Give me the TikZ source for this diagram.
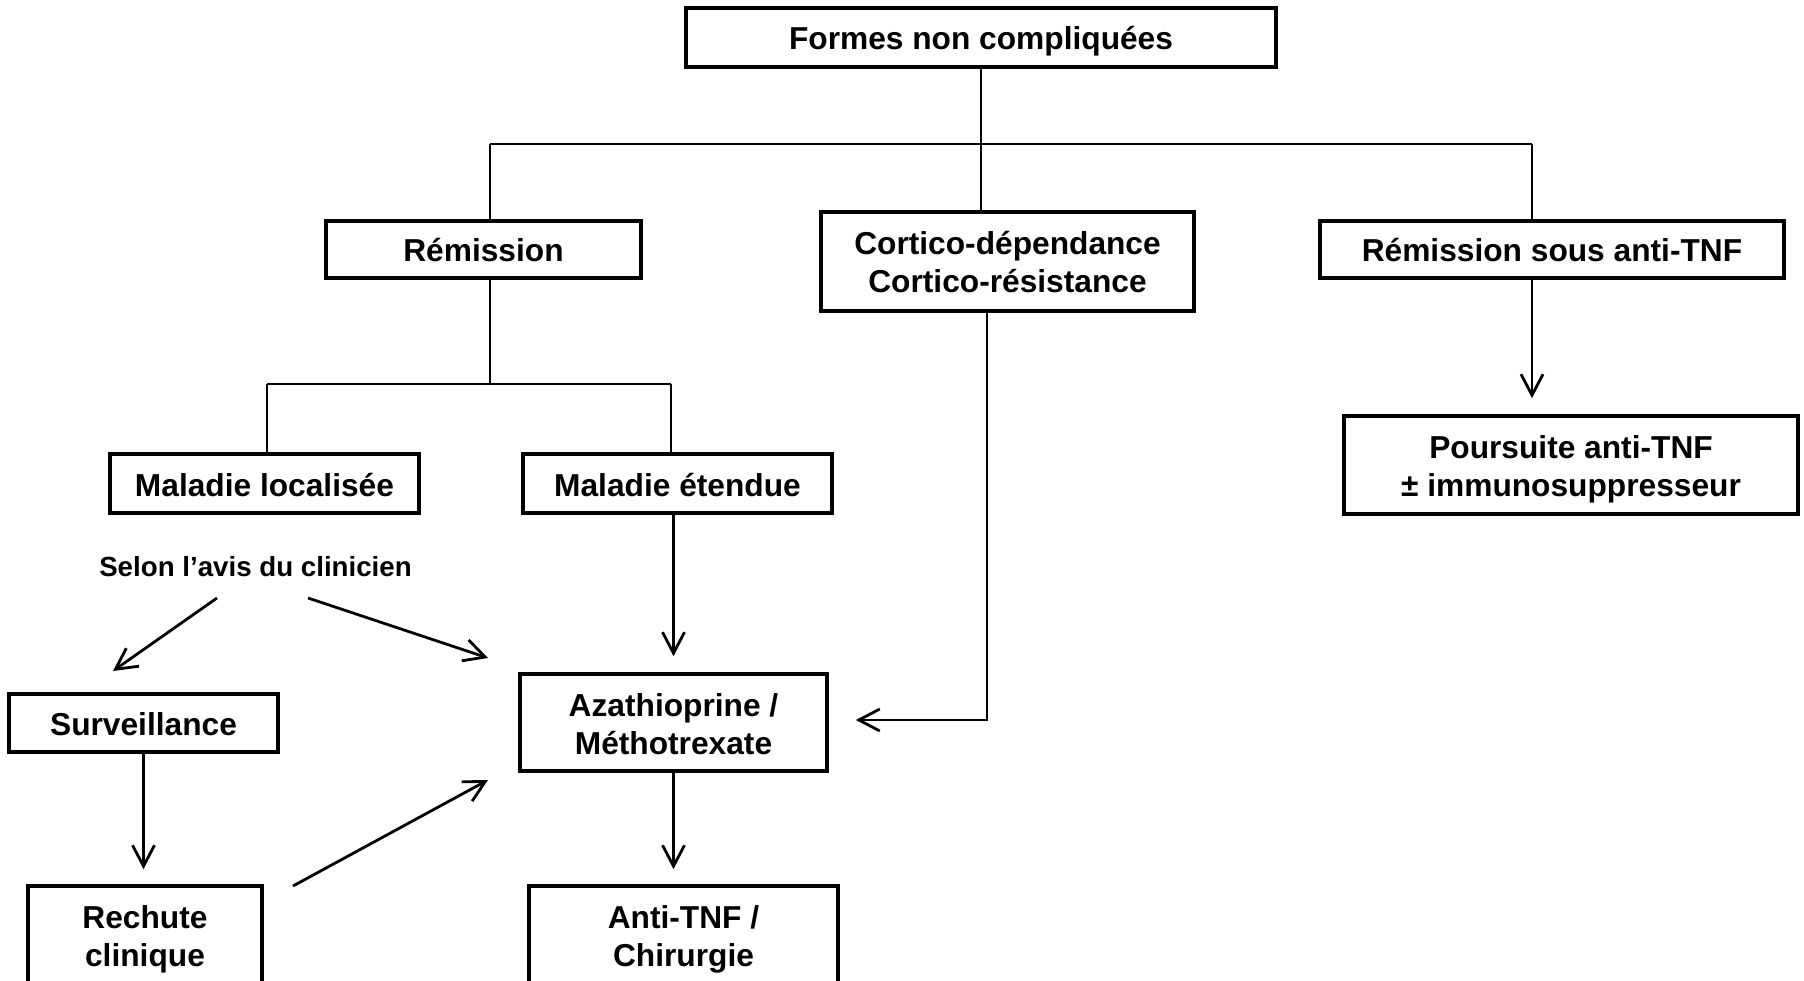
\documentclass[tikz,border=0pt]{standalone}
\usepackage{fontspec}
\setmainfont{Liberation Sans}
\usetikzlibrary{arrows.meta}

\begin{document}
\begin{tikzpicture}[x=1pt, y=-1pt,
    box/.style={draw, line width=3.6pt, inner sep=0pt, align=center,
        text height=30pt, text depth=5pt,
        font=\fontsize{31.7}{38}\selectfont\bfseries},
    box2/.style={box, text height=68pt},
    link/.style={line width=2.8pt},
    arr/.style={line width=2.8pt,
        -{Straight Barb[length=21pt, width=22pt, line width=2.8pt]}}]

    \useasboundingbox (0, 0) rectangle (1804, 981);

    \node[box, minimum width=590pt, minimum height=59pt] (a) at (981, 37.5) {Formes non compliquées};
    \node[box, minimum width=315pt, minimum height=57pt] (b) at (483.5, 249.5) {Rémission};
    \node[box2, minimum width=373pt, minimum height=99pt] (c) at (1007.5, 261.5) {Cortico-dépendance\\Cortico-résistance};
    \node[box, minimum width=464pt, minimum height=57pt] (d) at (1552, 249.5) {Rémission sous anti-TNF};
    \node[box, minimum width=309pt, minimum height=59pt] (e) at (264.5, 483.5) {Maladie localisée};
    \node[box, minimum width=309pt, minimum height=59pt] (f) at (677.5, 483.5) {Maladie étendue};
    \node[font=\fontsize{27.7}{33}\selectfont\bfseries] (g) at (255.5, 567) {Selon l’avis du clinicien};
    \node[box2, minimum width=307pt, minimum height=97pt] (h) at (673.5, 722.5) {Azathioprine /\\Méthotrexate};
    \node[box, minimum width=269pt, minimum height=58pt] (i) at (143.5, 723) {Surveillance};
    \node[box2, minimum width=234pt, minimum height=98pt] (j) at (145, 935) {Rechute\\clinique};
    \node[box2, minimum width=454pt, minimum height=98pt] (k) at (1571, 465) {Poursuite anti-TNF\\± immunosuppresseur};
    \node[box2, minimum width=309pt, minimum height=98pt] (l) at (683.5, 935) {Anti-TNF /\\Chirurgie};

    \coordinate (p) at (490, 144);
    \coordinate (q) at (1532, 144);
    \coordinate (s) at (267, 384);
    \coordinate (t) at (671, 384);
    \coordinate (u) at (987, 720);
    \coordinate (v1) at (217, 598);
    \coordinate (v2) at (113, 671);
    \coordinate (w1) at (308, 598);
    \coordinate (w2) at (488, 658);
    \coordinate (x1) at (293, 886);
    \coordinate (x2) at (488, 780);

    \draw [link] (a.south) to (a.south |- p);
    \draw [link] (p) to (q);
    \draw [link] (p) to (p |- b.north);
    \draw [link] (a.south |- p) to (a.south |- c.north);
    \draw [link] (q) to (q |- d.north);
    \draw [link] (p |- b.south) to (p |- s);
    \draw [link] (s) to (t);
    \draw [link] (s) to (s |- e.north);
    \draw [link] (t) to (t |- f.north);

    \draw [arr, shorten >=16pt] (f.south -| h.north) to (h.north);
    \draw [arr, shorten >=27pt] (c.south -| u) -- (u) -- (u -| h.east);
    \draw [arr, shorten >=16pt] (q |- d.south) to (q |- k.north);
    \draw [arr, shorten >=15pt] (i.south) to (i.south |- j.north);
    \draw [arr, shorten >=15pt] (h.south) to (h.south |- l.north);
    \draw [arr] (v1) to (v2);
    \draw [arr] (w1) to (w2);
    \draw [arr] (x1) to (x2);

\end{tikzpicture}
\end{document}
